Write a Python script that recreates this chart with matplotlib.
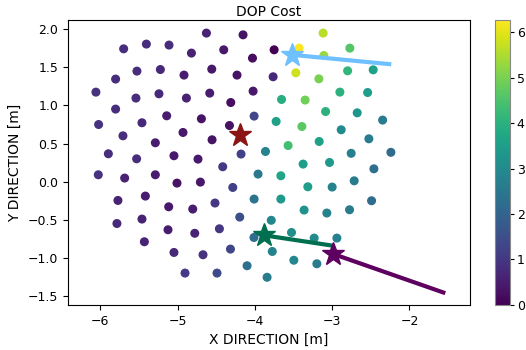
import numpy as np
import matplotlib
matplotlib.use("Agg")
import matplotlib.pyplot as plt

# 후보 지점 좌표 [m] 와 DOP cost
x_pts = [-4.627, -4.153, -5.698, -5.404, -5.111, -4.821, -4.403, -4.031, -3.751, -3.427,
         -3.117, -2.771, -3.108, -5.526, -5.223, -4.917, -4.558, -4.231, -3.764, -3.470,
         -3.172, -2.800, -2.469, -5.802, -6.057, -5.539, -5.241, -4.886, -4.584, -4.312,
         -4.023, -3.655, -3.350, -2.900, -2.541, -5.802, -6.022, -5.461, -5.141, -4.692,
         -4.329, -4.010, -3.725, -3.392, -3.085, -2.676, -2.347, -5.707, -5.288, -4.930,
         -4.554, -3.863, -3.570, -3.168, -2.883, -2.525, -2.240, -5.896, -5.530, -5.047,
         -4.736, -4.179, -4.416, -3.376, -3.034, -2.754, -2.460, -6.026, -5.685, -5.288,
         -5.008, -4.705, -4.286, -3.959, -3.664, -3.315, -3.000, -2.715, -5.772, -5.417,
         -5.115, -4.804, -4.516, -4.010, -3.664, -3.363, -3.069, -2.775, -2.490, -5.785,
         -5.461, -5.124, -4.778, -4.459, -4.196, -3.788, -4.012, -3.526, -3.233, -2.939,
         -5.430, -5.047, -4.671, -4.316, -3.775, -3.496, -3.198, -4.101, -4.904, -4.490,
         -3.842]
y_pts = [1.948, 1.925, 1.742, 1.804, 1.791, 1.686, 1.729, 1.620, 1.729, 1.751,
         1.948, 1.751, 1.654, 1.450, 1.471, 1.398, 1.476, 1.398, 1.376, 1.428,
         1.349, 1.454, 1.467, 1.346, 1.175, 1.097, 1.153, 1.097, 1.162, 1.039,
         1.188, 1.079, 1.071, 1.175, 1.170, 0.953, 0.751, 0.774, 0.865, 0.826,
         0.738, 0.861, 0.791, 0.725, 0.921, 0.904, 0.809, 0.603, 0.512, 0.647,
         0.551, 0.398, 0.476, 0.529, 0.682, 0.564, 0.387, 0.368, 0.302, 0.342,
         0.298, 0.364, 0.198, 0.233, 0.254, 0.374, 0.171, 0.093, 0.050, 0.093,
         -0.016, -0.003, -0.073, 0.102, 0.080, -0.064, -0.068, 0.014, -0.243, -0.186,
         -0.326, -0.356, -0.277, -0.225, -0.225, -0.369, -0.408, -0.365, -0.247, -0.545,
         -0.487, -0.627, -0.673, -0.614, -0.461, -0.503, -0.728, -0.662, -0.736, -0.736,
         -0.784, -0.924, -0.954, -0.880, -0.911, -1.026, -1.072, -1.098, -1.194, -1.194,
         -1.249]
cost = [0.6, 0.3, 0.8, 0.8, 0.8, 0.6, 0.4, 0.2, 0.0, 6.27,
        5.6, 4.6, 5.3, 0.8, 0.7, 0.5, 0.4, 0.3, 0.7, 5.8,
        5.0, 4.1, 3.6, 0.8, 0.9, 0.8, 0.7, 0.6, 0.5, 0.2,
        0.4, 3.9, 4.9, 4.0, 3.5, 0.8, 0.9, 0.7, 0.5, 0.3,
        0.3, 1.3, 3.6, 4.7, 4.0, 3.3, 2.6, 0.8, 0.5, 0.4,
        0.3, 2.8, 4.4, 3.6, 3.0, 2.6, 2.2, 0.8, 0.8, 0.4,
        0.4, 1.2, 1.0, 3.5, 3.4, 2.7, 2.3, 0.9, 0.6, 0.5,
        0.3, 0.4, 1.2, 2.5, 3.7, 3.5, 2.8, 2.6, 0.6, 0.5,
        0.4, 0.5, 1.0, 2.4, 3.4, 3.2, 2.8, 2.6, 2.2, 0.7,
        0.6, 0.5, 0.6, 1.0, 1.5, 2.9, 2.2, 3.1, 3.0, 2.7,
        0.6, 0.7, 0.9, 1.3, 2.8, 2.9, 2.6, 2.3, 1.1, 1.4,
        2.6]

# 별 (시작 위치) 과 이동 경로 끝점
red_star = (-4.196, 0.617)
blue_track_x = [-3.526, -2.262]
blue_track_y = [1.664, 1.542]
green_track_x = [-3.884, -3.008]
green_track_y = [-0.699, -0.833]
purple_track_x = [-2.995, -1.562]
purple_track_y = [-0.941, -1.448]

fig = plt.figure(figsize=(5.26, 3.5), dpi=100)
ax = fig.add_axes([0.129, 0.129, 0.764, 0.814])
cax = fig.add_axes([0.941, 0.129, 0.028, 0.814])

sc = ax.scatter(x_pts, y_pts, c=cost, cmap="viridis", s=30, vmin=0, vmax=6.27, zorder=2)

ax.plot(blue_track_x, blue_track_y, color="#6fc0ff", lw=3, zorder=3)
ax.plot(green_track_x, green_track_y, color="#006f50", lw=3, zorder=3)
ax.plot(purple_track_x, purple_track_y, color="#5e0060", lw=3, zorder=3)

ax.plot(red_star[0], red_star[1], marker="*", ms=17, color="#8b1515", ls="none", zorder=4)
ax.plot(blue_track_x[0], blue_track_y[0], marker="*", ms=17, color="#6fc0ff", ls="none", zorder=4)
ax.plot(green_track_x[0], green_track_y[0], marker="*", ms=17, color="#006f50", ls="none", zorder=4)
ax.plot(purple_track_x[0], purple_track_y[0], marker="*", ms=17, color="#5e0060", ls="none", zorder=4)

ax.set_xlim(-6.42, -1.22)
ax.set_ylim(-1.61, 2.12)
ax.set_xticks([-6, -5, -4, -3, -2])
ax.set_yticks([-1.5, -1.0, -0.5, 0.0, 0.5, 1.0, 1.5, 2.0])
ax.tick_params(labelsize=9)
ax.set_xlabel("X DIRECTION [m]", fontsize=10)
ax.set_ylabel("Y DIRECTION [m]", fontsize=10)
ax.set_title("DOP Cost", fontsize=10, pad=3)

cb = fig.colorbar(sc, cax=cax)
cb.set_ticks([0, 1, 2, 3, 4, 5, 6])
cb.ax.tick_params(labelsize=9, length=3, pad=2)
cb.outline.set_edgecolor("#888888")

fig.savefig("out.png", dpi=100)
